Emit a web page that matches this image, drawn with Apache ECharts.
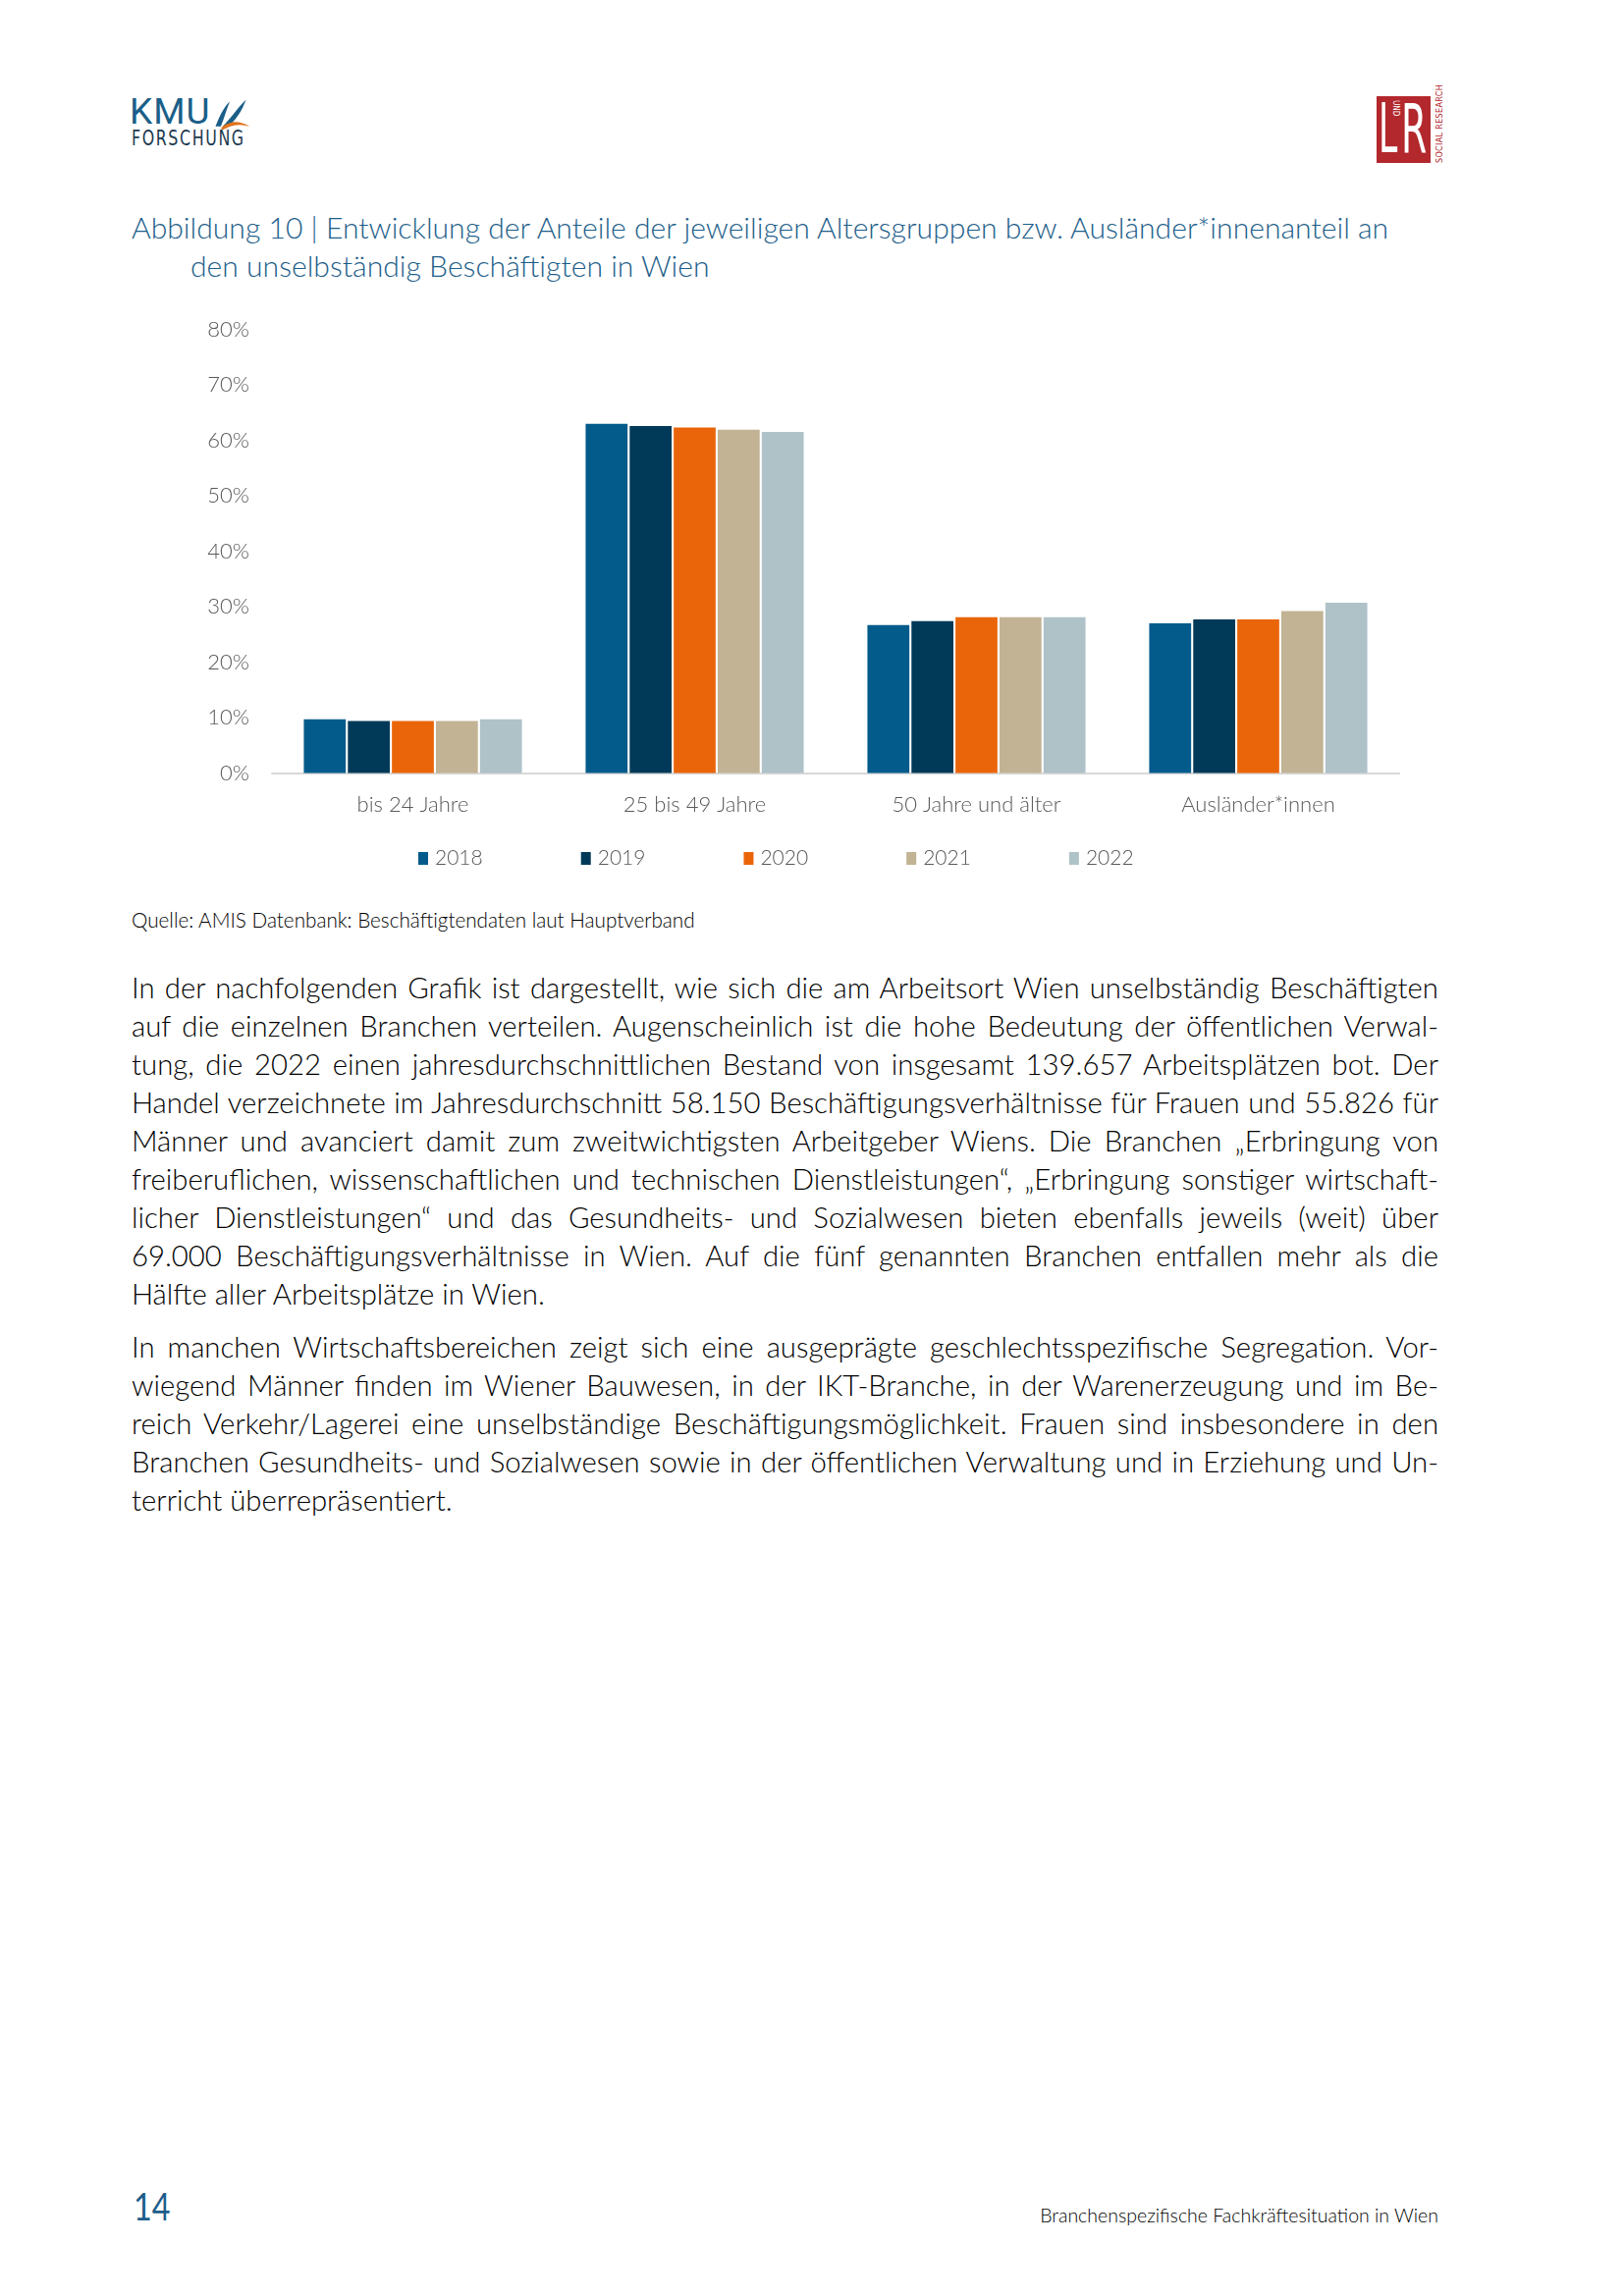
<!DOCTYPE html>
<html>
<head>
<meta charset="utf-8">
<script src="https://cdn.jsdelivr.net/npm/echarts@6/dist/echarts.min.js"></script>
<style>
  html, body { margin:0; padding:0; background:#fff; }
  body { width:1654px; height:2339px; position:relative; overflow:hidden; font-family: Lato, "Open Sans", sans-serif; }
  .abs { position:absolute; }
  .title { color:#1d5e8a; font-size:29px; font-weight:300; white-space:nowrap; }
  .para { position:absolute; left:134px; width:1331px; font-size:27px; font-weight:300; color:#000; }
  .line { height:39px; line-height:39px; white-space:nowrap; text-align:justify; text-align-last:justify; }
  .line.last { text-align:left; text-align-last:left; }
  #chart { position:absolute; left:0; top:300px; width:1654px; height:600px; }
</style>
</head>
<body>
<!-- KMU Forschung logo -->
<div class="abs" style="left:132px; top:92px; font-family:Roboto, sans-serif; font-size:37px; color:#1b5f88; letter-spacing:1px;">KMU</div>
<svg class="abs" style="left:214px; top:96px;" width="42" height="40" viewBox="0 0 46 40">
  <path d="M6 34 C10 24 14 14 22 6 C18 16 16 24 12 34 Z" fill="#1b5f88"/>
  <path d="M14 34 C22 26 30 14 40 4 C36 16 28 28 18 36 Z" fill="#1b5f88"/>
  <path d="M12 36 C20 28 32 26 44 34 C34 31 24 32 14 38 Z" fill="#e2731c"/>
</svg>
<div class="abs" id="forschung" style="left:134px; top:128px; font-family:'DejaVu Sans Condensed','DejaVu Sans',sans-serif; font-size:22px; color:#1d3a4f; letter-spacing:2px; white-space:nowrap; transform:scaleX(0.8); transform-origin:left top;">FORSCHUNG</div>
<!-- LR logo -->
<div class="abs" style="left:1402px; top:98px; width:55px; height:68px; background:#b3282d;"></div>
<div class="abs" style="left:1404px; top:96px; font-family:'Liberation Sans Narrow','DejaVu Sans Condensed',sans-serif; font-size:70px; line-height:70px; color:#fff; transform:scaleX(0.55); transform-origin:left top;">L</div>
<div class="abs" style="left:1427px; top:96px; font-family:'Liberation Sans Narrow','DejaVu Sans Condensed',sans-serif; font-size:70px; line-height:70px; color:#fff; transform:scaleX(0.6); transform-origin:left top;">R</div>
<div class="abs" style="left:1426px; top:102px; font-family:'DejaVu Sans Condensed',sans-serif; font-size:8px; color:#fff; transform:rotate(90deg); transform-origin:left top;">UND</div>
<div class="abs" style="left:1461px; top:166px; font-family:'DejaVu Sans Condensed',sans-serif; font-size:9px; color:#b3282d; white-space:nowrap; transform:rotate(-90deg); transform-origin:left top; letter-spacing:0.3px;">SOCIAL RESEARCH</div>

<!-- Title -->
<div class="abs title" id="t1" style="left:134px; top:213px;">Abbildung 10 | Entwicklung der Anteile der jeweiligen Altersgruppen bzw. Ausländer*innenanteil an</div>
<div class="abs title" id="t2" style="left:194px; top:252px;">den unselbständig Beschäftigten in Wien</div>

<div id="chart"></div>

<!-- Source -->
<div class="abs" id="src" style="left:134px; top:925px; font-size:20px; font-weight:300; color:#000; white-space:nowrap;">Quelle: AMIS Datenbank: Beschäftigtendaten laut Hauptverband</div>

<!-- Body text -->
<div class="para" id="p1" style="top:986px;"></div>
<div class="para" id="p2" style="top:1352px;"></div>

<!-- Footer -->
<div class="abs" style="left:136px; top:2224px; font-size:38px; font-weight:400; color:#1d5e8a; transform:scaleX(0.85); transform-origin:left top;">14</div>
<div class="abs" id="foot" style="right:189px; top:2245px; font-size:19px; font-weight:300; color:#000; white-space:nowrap;">Branchenspezifische Fachkräftesituation in Wien</div>

<script>
// ---- Data ----
const categories = ['bis 24 Jahre', '25 bis 49 Jahre', '50 Jahre und älter', 'Ausländer*innen'];
const years = ['2018', '2019', '2020', '2021', '2022'];
const v2018 = [9.7, 63.0, 26.7, 27.0];
const v2019 = [9.4, 62.6, 27.4, 27.7];
const v2020 = [9.4, 62.3, 28.1, 27.7];
const v2021 = [9.4, 61.9, 28.1, 29.2];
const v2022 = [9.7, 61.5, 28.1, 30.7];
const yTicks = [0, 10, 20, 30, 40, 50, 60, 70, 80];

const para1 = [
  'In der nachfolgenden Grafik ist dargestellt, wie sich die am Arbeitsort Wien unselbständig Beschäftigten',
  'auf die einzelnen Branchen verteilen. Augenscheinlich ist die hohe Bedeutung der öffentlichen Verwal-',
  'tung, die 2022 einen jahresdurchschnittlichen Bestand von insgesamt 139.657 Arbeitsplätzen bot. Der',
  'Handel verzeichnete im Jahresdurchschnitt 58.150 Beschäftigungsverhältnisse für Frauen und 55.826 für',
  'Männer und avanciert damit zum zweitwichtigsten Arbeitgeber Wiens. Die Branchen „Erbringung von',
  'freiberuflichen, wissenschaftlichen und technischen Dienstleistungen“, „Erbringung sonstiger wirtschaft-',
  'licher Dienstleistungen“ und das Gesundheits- und Sozialwesen bieten ebenfalls jeweils (weit) über',
  '69.000 Beschäftigungsverhältnisse in Wien. Auf die fünf genannten Branchen entfallen mehr als die',
  'Hälfte aller Arbeitsplätze in Wien.'
];
const para2 = [
  'In manchen Wirtschaftsbereichen zeigt sich eine ausgeprägte geschlechtsspezifische Segregation. Vor-',
  'wiegend Männer finden im Wiener Bauwesen, in der IKT-Branche, in der Warenerzeugung und im Be-',
  'reich Verkehr/Lagerei eine unselbständige Beschäftigungsmöglichkeit. Frauen sind insbesondere in den',
  'Branchen Gesundheits- und Sozialwesen sowie in der öffentlichen Verwaltung und in Erziehung und Un-',
  'terricht überrepräsentiert.'
];

function fitWidth(el, target) {
  const fs = parseFloat(getComputedStyle(el).fontSize);
  const w = el.getBoundingClientRect().width;
  el.style.fontSize = (fs * target / w) + 'px';
}
fitWidth(document.getElementById('t1'), 1281);
document.getElementById('t2').style.fontSize = document.getElementById('t1').style.fontSize;
fitWidth(document.getElementById('src'), 574);
fitWidth(document.getElementById('foot'), 406);

function measure(t, host) {
  const probe = document.createElement('span');
  probe.textContent = t;
  probe.style.whiteSpace = 'nowrap';
  probe.style.visibility = 'hidden';
  probe.style.position = 'absolute';
  host.appendChild(probe);
  const w = probe.getBoundingClientRect().width;
  host.removeChild(probe);
  return w;
}
const W = 1331;
(function () {
  const p1 = document.getElementById('p1');
  const justified = para1.slice(0, -1).concat(para2.slice(0, -1));
  let maxW = 0;
  justified.forEach(t => { maxW = Math.max(maxW, measure(t, p1)); });
  const fs = 27 * (W - 6) / maxW;
  document.getElementById('p1').style.fontSize = fs + 'px';
  document.getElementById('p2').style.fontSize = fs + 'px';
})();
function fillPara(id, lines) {
  const el = document.getElementById(id);
  lines.forEach((t, i) => {
    const d = document.createElement('div');
    d.className = 'line' + (i === lines.length - 1 ? ' last' : '');
    d.style.whiteSpace = 'normal';
    d.textContent = t;
    el.appendChild(d);
  });
}
fillPara('p1', para1);
fillPara('p2', para2);

// ---- Chart ----
const colors = ['#035b8b', '#013a58', '#ea650a', '#c1b394', '#afc2c8'];
const seriesVals = [v2018, v2019, v2020, v2021, v2022];
const chart = echarts.init(document.getElementById('chart'), null, { renderer: 'canvas' });
const labelFont = { fontFamily: 'Lato, sans-serif', fontWeight: 300, color: '#595959', fontSize: 22 };
chart.setOption({
  animation: false,
  color: colors,
  grid: { left: 277, right: 229, top: 35.6, bottom: 112.5 },
  legend: {
    data: years,
    left: 421, top: 559,
    itemWidth: 10, itemHeight: 13, itemGap: 100,
    icon: 'rect',
    textStyle: Object.assign({}, labelFont, { fontSize: 21, padding: [0, 0, 0, 2] })
  },
  xAxis: {
    type: 'category',
    data: categories,
    axisLine: { lineStyle: { color: '#d9d9d9', width: 2 } },
    axisTick: { show: false },
    axisLabel: Object.assign({}, labelFont, { margin: 21 })
  },
  yAxis: {
    type: 'value',
    min: yTicks[0], max: yTicks[yTicks.length - 1], interval: 10,
    axisLine: { show: false },
    axisTick: { show: false },
    splitLine: { show: false },
    axisLabel: Object.assign({}, labelFont, { margin: 23, formatter: v => v + '%' })
  },
  series: years.map((y, i) => ({
    name: y,
    type: 'bar',
    data: seriesVals[i],
    barGap: '5%',
    barCategoryGap: '22.6%',
    itemStyle: { color: colors[i] }
  }))
});
</script>
</body>
</html>
